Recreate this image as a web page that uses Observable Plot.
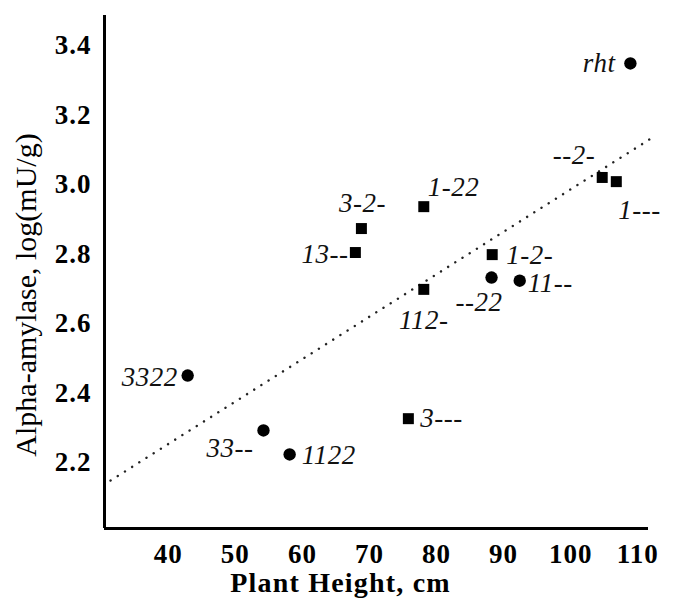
<!DOCTYPE html>
<html>
<head>
<meta charset="utf-8">
<script src="https://cdn.jsdelivr.net/npm/d3@7"></script>
<script src="https://cdn.jsdelivr.net/npm/@observablehq/plot@0.6"></script>
<style>
  html, body { margin: 0; padding: 0; background: #fff; }
  .xtitle text { letter-spacing: 1.2px; }
  .ticklbl text { letter-spacing: 1px; }
  .ptlabel text { letter-spacing: 0.5px; }
</style>
</head>
<body>
<div id="chart"></div>
<script>
// ---- data ----
const names    = ["rht", "--2-", "1---", "1-22", "3-2-", "13--", "1-2-", "--22", "11--", "112-", "3322", "3---", "33--", "1122"];
const heights  = [108.9, 104.7, 106.8, 78.1, 68.8, 67.9, 88.3, 88.2, 92.4, 78.1, 42.9, 75.8, 54.2, 58.1];
const amylase  = [3.348, 3.020, 3.008, 2.936, 2.873, 2.804, 2.798, 2.732, 2.723, 2.698, 2.450, 2.326, 2.292, 2.223];
const shapes   = ["circle", "square", "square", "square", "square", "square", "square", "circle", "circle", "square", "circle", "square", "circle", "circle"];

// dotted trend line end points
const fitHeights = [31.4, 112.2];
const fitAmylase = [2.148, 3.135];

// tick labels
const xTicks = [40, 50, 60, 70, 80, 90, 100, 110];
const yTicks = [2.2, 2.4, 2.6, 2.8, 3.0, 3.2, 3.4];

const xTitle = "Plant Height, cm";
const yTitle = "Alpha-amylase, log(mU/g)";

// ---- layout (label placement relative to each point) ----
const labelLayout = {
  "rht":  ["end",   -15,  0],
  "--2-": ["end",    -7, -22],
  "1---": ["start",   2,  29],
  "1-22": ["start",   4, -19],
  "3-2-": ["middle",  1, -25],
  "13--": ["end",    -7,  2],
  "1-2-": ["start",  14,  1],
  "--22": ["end",    11,  25],
  "11--": ["start",   8,  3],
  "112-": ["middle",  0,  31],
  "3322": ["end",   -10,  2],
  "3---": ["start",  12,  0],
  "33--": ["end",   -10,  18],
  "1122": ["start",  12,  1]
};

const points = names.map((n, i) => ({name: n, height: heights[i], amylase: amylase[i], shape: shapes[i]}));
const fit = fitHeights.map((h, i) => ({height: h, amylase: fitAmylase[i]}));

const xDomain = [30.5, 111.6];
const yDomain = [2.01, 3.486];

const labelMarks = points.map(p => {
  const [anchor, dx, dy] = labelLayout[p.name];
  return Plot.text([p], {
    x: "height", y: "amylase", text: "name",
    textAnchor: anchor, dx, dy,
    fontSize: 27, fontStyle: "italic", fill: "#111", className: "ptlabel"
  });
});

const chart = Plot.plot({
  width: 673,
  height: 602,
  marginLeft: 104,
  marginRight: 25,
  marginTop: 15,
  marginBottom: 74,
  x: {domain: xDomain},
  y: {domain: yDomain},
  symbol: {legend: false},
  style: {fontFamily: "'Liberation Serif', 'Times New Roman', serif", background: "#fff", color: "#000"},
  marks: [
    Plot.axisX({ticks: xTicks, tickSize: 0, tickPadding: 15, fontSize: 27, fontWeight: "bold", label: null, tickFormat: d => String(d), className: "ticklbl"}),
    Plot.axisY({ticks: yTicks, tickSize: 0, tickPadding: 13, fontSize: 27, fontWeight: "bold", label: null, tickFormat: d3.format(".1f"), className: "ticklbl"}),
    Plot.ruleX([xDomain[0]], {stroke: "#000", strokeWidth: 3}),
    Plot.ruleY([yDomain[0]], {stroke: "#000", strokeWidth: 3}),
    Plot.line(fit, {x: "height", y: "amylase", stroke: "#222", strokeWidth: 2.4, strokeDasharray: "0.1,8.4", strokeLinecap: "round"}),
    Plot.dot(points, {x: "height", y: "amylase", symbol: "shape", fill: "#000", stroke: "none", r: 6.2}),
    ...labelMarks,
    Plot.text([xTitle], {frameAnchor: "bottom", textAnchor: "middle", lineAnchor: "middle", dx: -36, dy: 55, fontSize: 28, fontWeight: "bold", fill: "#000", className: "xtitle"}),
    Plot.text([yTitle], {frameAnchor: "left", textAnchor: "middle", lineAnchor: "middle", rotate: -90, dx: -78, dy: 23, fontSize: 30, fill: "#000"})
  ]
});

document.getElementById("chart").appendChild(chart);
</script>
</body>
</html>
